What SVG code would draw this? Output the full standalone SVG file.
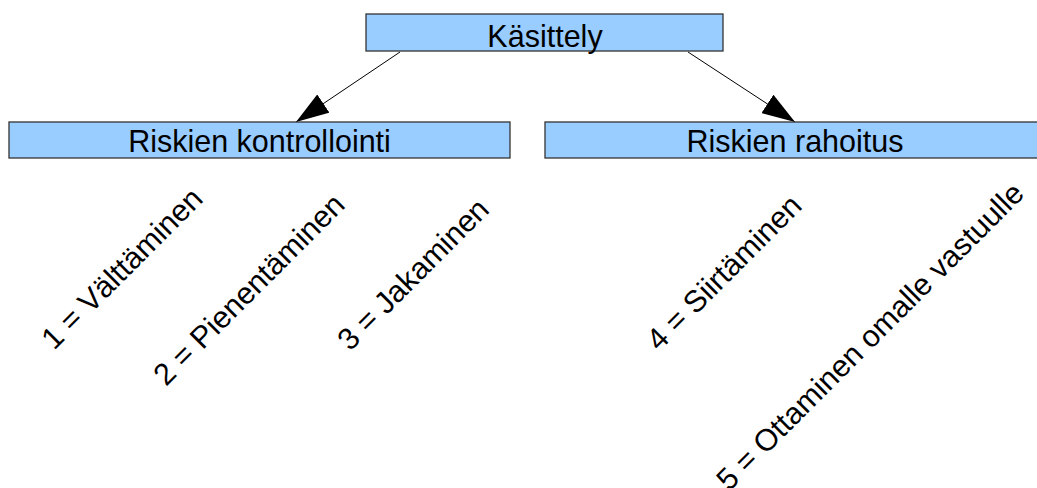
<svg xmlns="http://www.w3.org/2000/svg" width="1037" height="488" viewBox="0 0 1037 488">
<style>
.box{fill:#99ccff;stroke:#333;stroke-width:1.3}
.t{font-family:"Liberation Sans",Arial,sans-serif;font-size:30.5px;fill:#000}
.c{text-anchor:middle}
.conn{stroke:#000;stroke-width:1;fill:none}
</style>
<defs>
<marker id="ah" markerUnits="userSpaceOnUse" markerWidth="33" markerHeight="22" viewBox="0 0 33 22" refX="33" refY="11" orient="auto">
<path d="M0,0 L33,11 L0,22 z" fill="#000"/>
</marker>
</defs>
<rect width="1037" height="488" fill="#fff"/>
<g id="connectors">
<path class="conn" d="M400,52 L296,122" marker-end="url(#ah)"/>
<path class="conn" d="M688,52 L795,122" marker-end="url(#ah)"/>
</g>
<g id="kasittely">
<rect class="box" x="366" y="14" width="357" height="37"/>
<text class="t c" x="545" y="46.5">Käsittely</text>
</g>
<g id="kontrollointi">
<rect class="box" x="9" y="122" width="501" height="36"/>
<text class="t c" x="259.5" y="152">Riskien kontrollointi</text>
</g>
<g id="rahoitus">
<rect class="box" x="545" y="122" width="500" height="36"/>
<text class="t c" x="795" y="152">Riskien rahoitus</text>
</g>
<g id="item1"><text class="t" x="54" y="351" transform="rotate(-45 54 351)">1 = Välttäminen</text></g>
<g id="item2"><text class="t" x="166" y="387" transform="rotate(-45 166 387)">2 = Pienentäminen</text></g>
<g id="item3"><text class="t" x="350" y="352" transform="rotate(-45 350 352)">3 = Jakaminen</text></g>
<g id="item4"><text class="t" x="659" y="352" transform="rotate(-45 659 352)">4 = Siirtäminen</text></g>
<g id="item5"><text class="t" x="729" y="492" transform="rotate(-45 729 492)">5 = Ottaminen omalle vastuulle</text></g>
</svg>
